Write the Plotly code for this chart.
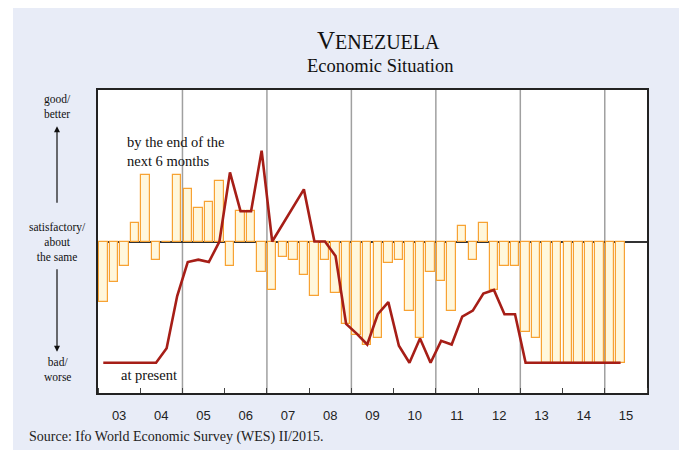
import pandas as pd
import plotly.graph_objects as go

# Survey periods (quarterly, I/2003 .. II/2015)
periods = pd.period_range("2003Q1", "2015Q2", freq="Q")
x_pos = [p.year + (p.quarter - 0.5) / 4 for p in periods]

# Balance of answers: +100 = good/better, 0 = satisfactory, -100 = bad/worse
expected_6m = [
    -50, -33, -20, 15, 55, -15, 0, 55, 43, 27.5, 33, 50,
    -20, 25, 25, -25, -40, -12.5, -15, -27.5, -45, -15, -42.5, -68,
    -77.5, -85, -80, -17.5, -15, -57.5, -80, -25, -32.5, -57.5, 12.5, -15,
    15, -40, -20, -20, -75, -80, -100, -100, -100, -100, -100, -100,
    -100, -100,
]
at_present = [
    -100, -100, -100, -100, -100, -100, -88, -45, -17, -15, -17, 0,
    57, 25, 25, 75, 0, 14, 29, 43, 0, 0, -12, -68,
    -76, -85, -60, -50, -86, -100, -80, -100, -82, -85, -62, -57,
    -43, -40, -60, -60, -100, -100, -100, -100, -100, -100, -100, -100,
    -100, -100,
]

year_ticks = list(range(2003, 2016))
year_labels = [f"{y % 100:02d}" for y in year_ticks]
grid_years = [2005, 2007, 2009, 2011, 2013, 2015]

SERIF = "Liberation Serif"
SANS = "Liberation Sans"
BG = "#E8ECF7"

# plot area in pixels: x 98..647, y 90..393
PX_L, PX_W, PX_B, PX_H = 98, 549, 393, 303


def px_x(p):
    return (p - PX_L) / PX_W


def px_y(p):
    return (PX_B - p) / PX_H


fig = go.Figure()

fig.add_trace(go.Bar(
    x=x_pos, y=expected_6m, width=0.2,
    marker=dict(color="#FFF7DC", line=dict(color="#F7A233", width=1.2)),
    name="by the end of the next 6 months", showlegend=False,
))
fig.add_trace(go.Scatter(
    x=x_pos, y=at_present, mode="lines",
    line=dict(color="#A61E17", width=2.6),
    name="at present", showlegend=False,
))

shapes = []
for gy in grid_years:
    shapes.append(dict(type="line", xref="x", yref="paper", x0=gy, x1=gy, y0=0, y1=1,
                       line=dict(color="#A0A0A0", width=1.5), layer="below"))
# white page border on the left and top
shapes.append(dict(type="rect", xref="paper", yref="paper",
                   x0=px_x(0), x1=px_x(13), y0=px_y(460), y1=px_y(-10),
                   fillcolor="white", line=dict(width=0), layer="above"))
shapes.append(dict(type="rect", xref="paper", yref="paper",
                   x0=px_x(0), x1=px_x(690), y0=px_y(8), y1=px_y(-10),
                   fillcolor="white", line=dict(width=0), layer="above"))

LBL_X = px_x(57)
annotations = [
    dict(text="V<span style='font-size:20px'>ENEZUELA</span>", x=px_x(378), y=px_y(41),
         xref="paper", yref="paper", xanchor="center", yanchor="middle", showarrow=False,
         font=dict(family=SERIF, size=25, color="#111")),
    dict(text="Economic Situation", x=px_x(380), y=px_y(66), xref="paper", yref="paper",
         xanchor="center", yanchor="middle", showarrow=False,
         font=dict(family=SERIF, size=18.5, color="#111")),
    dict(text="by the end of the<br>next 6 months", x=2003.64, y=74, xref="x", yref="y",
         xanchor="left", yanchor="middle", align="left", showarrow=False,
         font=dict(family=SERIF, size=14.5, color="#111")),
    dict(text="at present", x=2003.5, y=-110, xref="x", yref="y",
         xanchor="left", yanchor="middle", showarrow=False,
         font=dict(family=SERIF, size=14.5, color="#111")),
    dict(text="good/<br>better", x=LBL_X, y=111, xref="paper", yref="y",
         xanchor="center", yanchor="middle", showarrow=False,
         font=dict(family=SERIF, size=11.5, color="#111")),
    dict(text="satisfactory/<br>about<br>the same", x=LBL_X, y=0, xref="paper", yref="y",
         xanchor="center", yanchor="middle", showarrow=False,
         font=dict(family=SERIF, size=11.5, color="#111")),
    dict(text="bad/<br>worse", x=LBL_X, y=-106, xref="paper", yref="y",
         xanchor="center", yanchor="middle", showarrow=False,
         font=dict(family=SERIF, size=11.5, color="#111")),
    dict(text="", x=LBL_X, y=95, xref="paper", yref="y", ax=0, ay=78,
         showarrow=True, arrowhead=2, arrowsize=1, arrowwidth=1.2, arrowcolor="#111"),
    dict(text="", x=LBL_X, y=-91, xref="paper", yref="y", ax=0, ay=-84,
         showarrow=True, arrowhead=2, arrowsize=1, arrowwidth=1.2, arrowcolor="#111"),
    dict(text="Source: Ifo World Economic Survey (WES) II/2015.", x=px_x(27), y=px_y(437),
         xref="paper", yref="paper", xanchor="left", yanchor="middle", showarrow=False,
         font=dict(family=SERIF, size=14, color="#222")),
]

fig.update_layout(
    width=679, height=450,
    margin=dict(l=98, r=32, t=90, b=57),
    paper_bgcolor=BG, plot_bgcolor="white",
    bargap=0, shapes=shapes, annotations=annotations,
    xaxis=dict(
        range=[2003, 2016], showgrid=False, zeroline=False,
        tickvals=[y + 0.5 for y in year_ticks], ticktext=year_labels, ticks="",
        tickfont=dict(family=SANS, size=13, color="#222"), ticklabelstandoff=10,
        showline=True, linecolor="#222", linewidth=1.5, mirror=True,
        minor=dict(tick0=2003, dtick=1, ticks="inside", ticklen=5, tickcolor="#444", tickwidth=1),
    ),
    yaxis=dict(
        range=[-125, 125], showgrid=False, showticklabels=False, ticks="",
        zeroline=True, zerolinecolor="#333", zerolinewidth=1.5,
        showline=True, linecolor="#222", linewidth=1.5, mirror=True,
    ),
)

fig.write_html("out.html")
